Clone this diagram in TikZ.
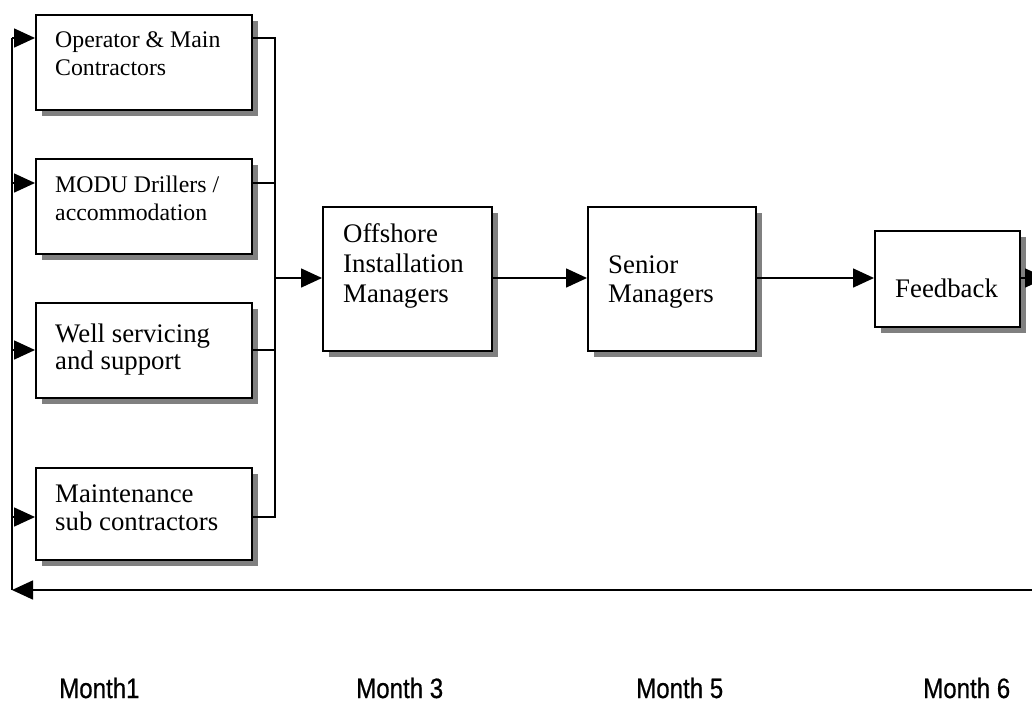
\documentclass[tikz,border=0pt]{standalone}
\usepackage{fontspec}
\setmainfont{Liberation Serif}
\newfontfamily\monthfont{Liberation Sans}[FakeStretch=0.86,FakeBold=0.6]
\usetikzlibrary{arrows.meta,shadows}
\definecolor{shadowgray}{HTML}{808080}
\tikzset{
  box/.style={draw, line width=2pt, fill=white, rectangle, inner sep=0pt, anchor=north west,
    drop shadow={shadow xshift=6pt, shadow yshift=-6pt, fill=shadowgray, opacity=1}},
  txt/.style={anchor=base west, inner sep=0pt},
  con/.style={line width=1.6pt},
  arr/.style={line width=1.6pt, -{Triangle[length=21pt,width=19pt]}},
  month/.style={anchor=base west, inner sep=0pt, font=\monthfont\fontsize{28}{30}\selectfont}
}
\newcommand{\smalltxt}{\fontsize{23.8}{28}\selectfont}
\newcommand{\bigtxt}{\fontsize{26.8}{28}\selectfont}
\begin{document}
\begin{tikzpicture}[x=1pt,y=-1pt]
\useasboundingbox (0,0) rectangle (1032,702);
\clip (0,0) rectangle (1032,702);
% boxes
\node[box, minimum width=216pt, minimum height=95pt] (b1) at (35,14) {};
\node[box, minimum width=216pt, minimum height=95pt] (b2) at (35,158) {};
\node[box, minimum width=216pt, minimum height=95pt] (b3) at (35,302) {};
\node[box, minimum width=216pt, minimum height=92pt] (b4) at (35,467) {};
\node[box, minimum width=169pt, minimum height=144pt] (oim) at (322,206) {};
\node[box, minimum width=168pt, minimum height=144pt] (sen) at (587,206) {};
\node[box, minimum width=145pt, minimum height=96pt] (fb) at (874,230) {};
% texts
\node[txt] (t1) at (55,47) {\smalltxt\begin{tabular}[t]{@{}l@{}}Operator \& Main\\Contractors\end{tabular}};
\node[txt] (t2) at (55,192) {\smalltxt\begin{tabular}[t]{@{}l@{}}MODU Drillers /\\accommodation\end{tabular}};
\node[txt] (t3) at (55,342) {\fontsize{26.8}{27}\selectfont\begin{tabular}[t]{@{}l@{}}Well servicing\\and support\end{tabular}};
\node[txt] (t4) at (55,502) {\bigtxt\begin{tabular}[t]{@{}l@{}}Maintenance\\sub contractors\end{tabular}};
\node[txt] (toim) at (343,242) {\fontsize{26.8}{30}\selectfont\begin{tabular}[t]{@{}l@{}}Offshore\\Installation\\Managers\end{tabular}};
\node[txt] (tsen) at (608,273) {\fontsize{26.8}{29}\selectfont\begin{tabular}[t]{@{}l@{}}Senior\\Managers\end{tabular}};
\node[txt] (tfb) at (895,297) {\bigtxt Feedback};
% left feedback bus
\coordinate (lt) at (12,38);
\coordinate (l2) at (12,183);
\coordinate (l3) at (12,350);
\coordinate (l4) at (12,517);
\coordinate (lb) at (12,590);
\draw[con] (lb) -- (lt);
\draw[arr] (lt) -- (lt -| b1.west);
\draw[arr] (l2) -- (l2 -| b2.west);
\draw[arr] (l3) -- (l3 -| b3.west);
\draw[arr] (l4) -- (l4 -| b4.west);
% right collector bus
\coordinate (rt) at (275,38);
\coordinate (r2) at (275,183);
\coordinate (r3) at (275,350);
\coordinate (r4) at (275,517);
\coordinate (rm) at (275,278);
\draw[con] (rt -| b1.east) -- (rt) -- (r4) -- (r4 -| b4.east);
\draw[con] (r2 -| b2.east) -- (r2);
\draw[con] (r3 -| b3.east) -- (r3);
\draw[arr] (rm) -- (rm -| oim.west);
% main flow
\draw[arr] (rm -| oim.east) -- (rm -| sen.west);
\draw[arr] (rm -| sen.east) -- (rm -| fb.west);
\coordinate (fo) at (1046,278);
\coordinate (br) at (1046,590);
\draw[arr] (rm -| fb.east) -- (fo);
\draw[con] (fo) -- (br);
\draw[arr] (br) -- (lb);
% months
\node[month] (m1) at (59,698) {Month1};
\node[month] (m3) at (356,698) {Month 3};
\node[month] (m5) at (636,698) {Month 5};
\node[month] (m6) at (923,698) {Month 6};
\end{tikzpicture}
\end{document}
